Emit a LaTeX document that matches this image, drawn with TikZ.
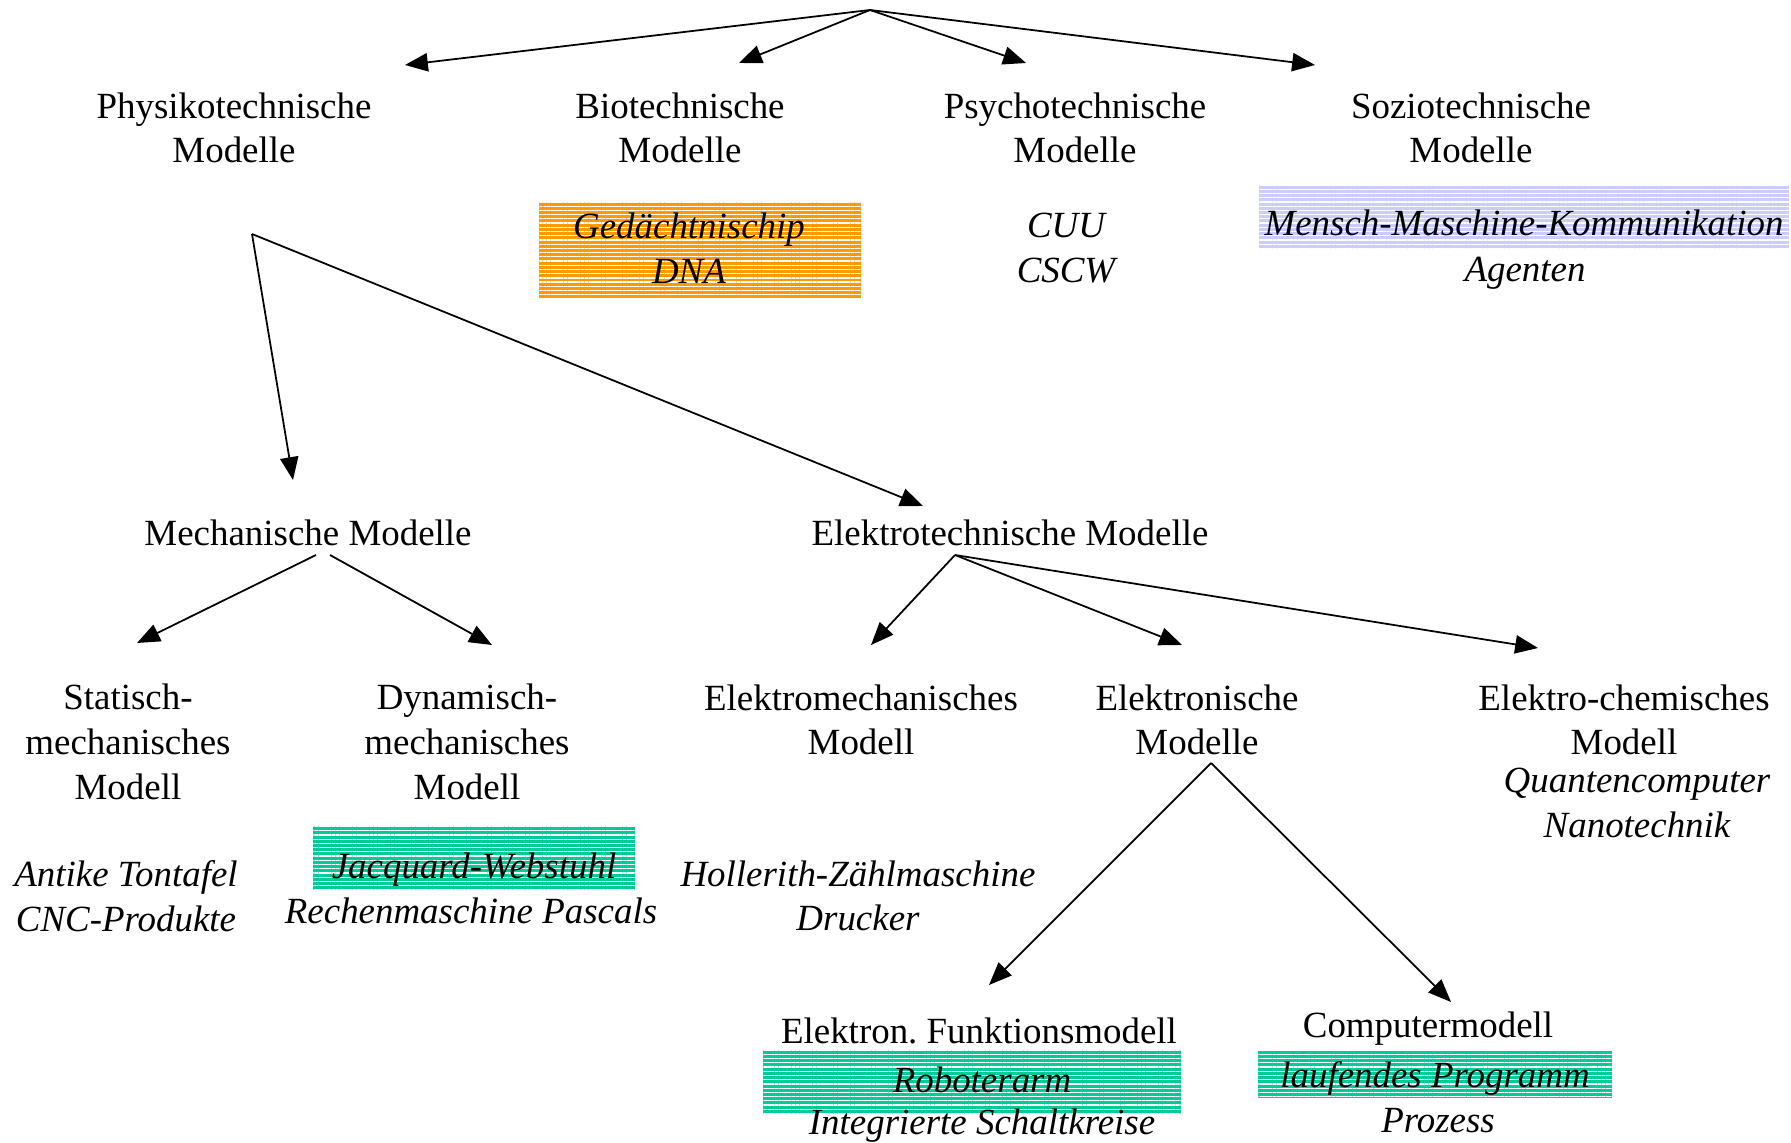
\documentclass[tikz,border=0pt]{standalone}
\usepackage{fontspec}
\setmainfont{Liberation Serif}
\usepackage{amsmath}
\usetikzlibrary{arrows.meta}
\usetikzlibrary{patterns.meta}

\definecolor{orangeHL}{RGB}{255,153,0}
\definecolor{greenHL}{RGB}{0,204,153}
\definecolor{blueHL}{RGB}{204,204,255}

\begin{document}
\begin{tikzpicture}[x=0.01cm, y=-0.01cm,
        every node/.style={font=\fontsize{10.5}{12.7}\selectfont, align=center, inner sep=0pt},
        pfeil/.style={-{Triangle[length=6.5pt,width=5.2pt]}, line width=0.5pt},
        beispiel/.style={font=\fontsize{10.5}{12.7}\selectfont\itshape},
        markiert/.style={fill=#1, postaction={pattern={Lines[distance=1.2pt,line width=0.35pt]}, pattern color=white}}]

            %\draw [help lines] (0,0) grid (1791,1143); 
            \useasboundingbox (0,0) rectangle (1791,1143);

            \path   (234,128)  node (phys) [] {Physikotechnische\\Modelle}
                    (680,128)  node (bio) [] {Biotechnische\\Modelle}
                    (1075,128) node (psycho) [] {Psychotechnische\\Modelle}
                    (1471,128) node (sozio) [] {Soziotechnische\\Modelle}
                    (700,250)  node (biobox) [markiert=orangeHL, minimum width=3.21cm, minimum height=0.95cm] {}
                    (689,248)  node (biobsp) [beispiel] {Gedächtnischip\\DNA}
                    (1066,248) node (psychobsp) [beispiel] {CUU\\CSCW}
                    (1524,236) node (mmk) [beispiel, markiert=blueHL, anchor=base, text height=0.5cm, text depth=0.13cm, minimum width=5.3cm] {Mensch-Maschine-Kommunikation}
                    (1525,273) node (agenten) [beispiel] {Agenten}
                    (308,533)  node (mech) [] {Mechanische Modelle}
                    (1010,533) node (elektro) [] {Elektrotechnische Modelle}
                    (128,742)  node (statisch) [] {Statisch-\\mechanisches\\Modell}
                    (467,742)  node (dynamisch) [] {Dynamisch-\\mechanisches\\Modell}
                    (861,720)  node (elmech) [] {Elektromechanisches\\Modell}
                    (1197,720) node (elektronik) [] {Elektronische\\Modelle}
                    (1624,720) node (elchem) [] {Elektro-chemisches\\Modell}
                    (1637,803) node (elchembsp) [beispiel] {Quantencomputer\\Nanotechnik}
                    (126,896)  node (statischbsp) [beispiel] {Antike Tontafel\\CNC-Produkte}
                    (474,878)  node (jacquard) [beispiel, markiert=greenHL, anchor=base, text height=0.52cm, text depth=0.12cm, minimum width=3.21cm] {Jacquard-Webstuhl}
                    (471,911)  node (pascal) [beispiel] {Rechenmaschine Pascals}
                    (858,896)  node (elmechbsp) [beispiel] {Hollerith-Zählmaschine\\Drucker}
                    (979,1031) node (funktion) [] {Elektron.\ Funktionsmodell}
                    (972,1082) node (roboterbox) [markiert=greenHL, minimum width=4.17cm, minimum height=0.63cm] {}
                    (982,1092) node (roboter) [beispiel, anchor=base] {Roboterarm}
                    (982,1126) node (schaltkreise) [beispiel] {Integrierte Schaltkreise}
                    (1428,1029) node (computer) [] {Computermodell}
                    (1435,1087) node (programm) [beispiel, markiert=greenHL, anchor=base, text height=0.36cm, text depth=0.11cm, minimum width=3.53cm] {laufendes Programm}
                    (1438,1121) node (prozess) [beispiel] {Prozess};

            % Anfangs- und Endpunkte der Pfeile
            \coordinate (wurzel) at (870,10);
            \coordinate (physein) at (405,65);
            \coordinate (bioein) at (739,63);
            \coordinate (psychoein) at (1026,63);
            \coordinate (sozioein) at (1315,65);
            \coordinate (physaus) at (252,234);
            \coordinate (mechein) at (293,480);
            \coordinate (elektroein) at (923,506);
            \coordinate (mechausl) at (316,555);
            \coordinate (mechausr) at (330,555);
            \coordinate (statischein) at (137,643);
            \coordinate (dynamischein) at (492,645);
            \coordinate (elektroaus) at (955,555);
            \coordinate (elmechein) at (871,645);
            \coordinate (elektronikein) at (1182,645);
            \coordinate (elchemein) at (1538,648);
            \coordinate (elektronikaus) at (1211,763);
            \coordinate (funktionein) at (989,985);
            \coordinate (computerein) at (1451,1002);

            \draw[pfeil] (wurzel) -- (physein);
            \draw[pfeil] (wurzel) -- (bioein);
            \draw[pfeil] (wurzel) -- (psychoein);
            \draw[pfeil] (wurzel) -- (sozioein);
            \draw[pfeil] (physaus) -- (mechein);
            \draw[pfeil] (physaus) -- (elektroein);
            \draw[pfeil] (mechausl) -- (statischein);
            \draw[pfeil] (mechausr) -- (dynamischein);
            \draw[pfeil] (elektroaus) -- (elmechein);
            \draw[pfeil] (elektroaus) -- (elektronikein);
            \draw[pfeil] (elektroaus) -- (elchemein);
            \draw[pfeil] (elektronikaus) -- (funktionein);
            \draw[pfeil] (elektronikaus) -- (computerein);
        \end{tikzpicture}
\end{document}
